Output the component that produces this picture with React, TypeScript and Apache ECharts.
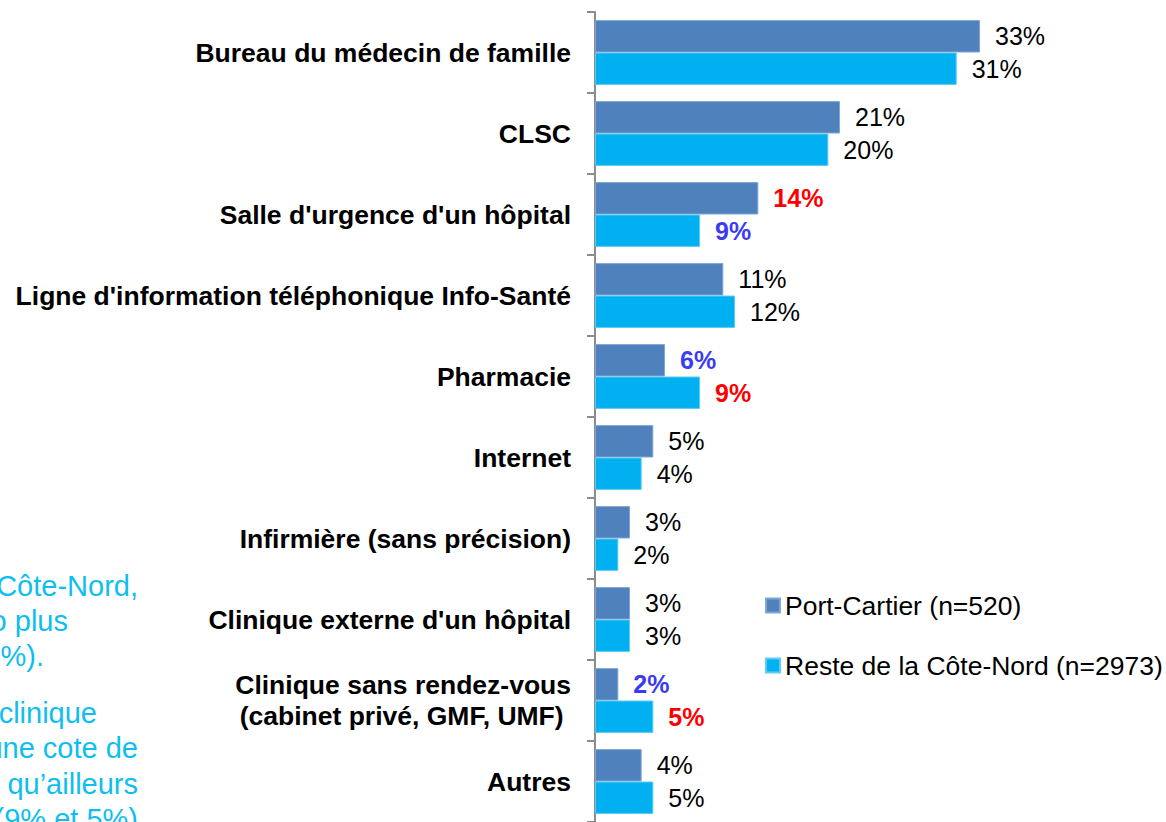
import React, { useEffect, useRef } from "react";
import * as echarts from "echarts";

const categories = [
  "Bureau du médecin de famille",
  "CLSC",
  "Salle d'urgence d'un hôpital",
  "Ligne d'information téléphonique Info-Santé",
  "Pharmacie",
  "Internet",
  "Infirmière (sans précision)",
  "Clinique externe d'un hôpital",
  "Clinique sans rendez-vous\n(cabinet privé, GMF, UMF) ",
  "Autres",
];
const portCartier = [33, 21, 14, 11, 6, 5, 3, 3, 2, 4];
const resteCoteNord = [31, 20, 9, 12, 9, 4, 2, 3, 5, 5];
// significance markers: "hi" = red (higher), "lo" = blue (lower)
const portSig = ["", "", "hi", "", "lo", "", "", "", "lo", ""];
const resteSig = ["", "", "lo", "", "hi", "", "", "", "hi", ""];
const seriesNames = ["Port-Cartier (n=520)", "Reste de la Côte-Nord (n=2973)"];

const noteLines = [
  { t: "Côte-Nord,", x: 138, y: 586 },
  { t: "o plus", x: 68, y: 621 },
  { t: "9%).", x: 44, y: 656 },
  { t: "clinique", x: 97, y: 713 },
  { t: "une cote de", x: 138, y: 748 },
  { t: "qu’ailleurs", x: 138, y: 784 },
  { t: "(9% et 5%)", x: 138, y: 819 },
];

const FONT = "'Liberation Sans', Arial, Helvetica, sans-serif";
const RED = "#FF0000";
const BLUE = "#3B3BF5";

function buildData(values: number[], sig: string[]) {
  return values.map((v, i) => {
    const s = sig[i];
    if (!s) return { value: v };
    return {
      value: v,
      label: {
        color: s === "hi" ? RED : BLUE,
        fontWeight: "bold",
      },
    };
  });
}

export default function App() {
  const ref = useRef<HTMLDivElement>(null);
  useEffect(() => {
    if (!ref.current) return;
    const chart = echarts.init(ref.current, null, { renderer: "svg" });
    const labelCommon = {
      show: true,
      position: "right",
      distance: 15,
      formatter: "{c}%",
      fontSize: 25,
      fontFamily: FONT,
      color: "#000",
    };
    chart.setOption({
      animation: false,
      backgroundColor: "#fff",
      grid: { left: 595, top: 12, width: 466.7, height: 815, containLabel: false },
      xAxis: {
        type: "value",
        min: 0,
        max: 40,
        show: false,
      },
      yAxis: {
        type: "category",
        inverse: true,
        data: categories,
        axisLine: { show: true, lineStyle: { color: "#8C8C8C", width: 2 } },
        axisTick: { show: true, length: 8, lineStyle: { color: "#8C8C8C", width: 2 } },
        axisLabel: {
          margin: 24,
          fontSize: 26.5,
          fontWeight: "bold",
          fontFamily: FONT,
          color: "#000",
          lineHeight: 31,
          align: "right",
        },
      },
      legend: {
        orient: "vertical",
        left: 760,
        top: 587,
        itemWidth: 14,
        itemHeight: 14,
        itemGap: 33,
        icon: "rect",
        textStyle: { fontSize: 26.5, fontFamily: FONT, color: "#000" },
        data: seriesNames,
      },
      series: [
        {
          name: seriesNames[0],
          type: "bar",
          barGap: "0%",
          barCategoryGap: "20%",
          itemStyle: { color: "#4F81BD", borderColor: "#7FA6D6", borderWidth: 1 },
          label: labelCommon,
          data: buildData(portCartier, portSig),
        },
        {
          name: seriesNames[1],
          type: "bar",
          barGap: "0%",
          barCategoryGap: "20%",
          itemStyle: { color: "#00B0F0", borderColor: "#5CCBF5", borderWidth: 1 },
          label: labelCommon,
          data: buildData(resteCoteNord, resteSig),
        },
      ],
      graphic: noteLines.map((l) => ({
        type: "text",
        x: l.x,
        y: l.y,
        style: {
          text: l.t,
          fill: "#0FBEF0",
          fontSize: 29,
          fontFamily: FONT,
          textAlign: "right",
          textVerticalAlign: "middle",
        },
      })),
    });
    return () => chart.dispose();
  }, []);
  return (
    <div
      ref={ref}
      style={{ position: "fixed", left: 0, top: 0, width: 1166, height: 822, background: "#fff" }}
    />
  );
}
